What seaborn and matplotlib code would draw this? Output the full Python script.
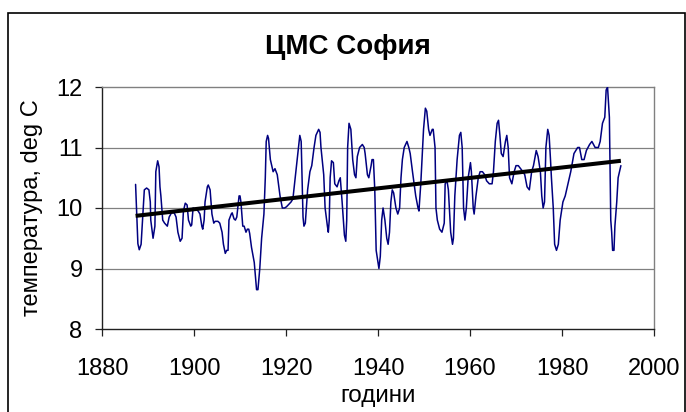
import matplotlib
matplotlib.use("Agg")
import matplotlib.pyplot as plt
import matplotlib.patches as patches
import seaborn as sns
import pandas as pd

years = [1887.3, 1887.8, 1888.1, 1888.5, 1889.2, 1889.7, 1890.2, 1890.5, 1890.6, 1891.1,
         1891.5, 1891.7, 1892.1, 1892.4, 1892.6, 1892.8, 1893.2, 1893.6, 1894.2, 1894.6,
         1895.1, 1895.7, 1896.1, 1896.5, 1897.0, 1897.4, 1897.7, 1898.1, 1898.5, 1898.8,
         1899.3, 1899.5, 1899.8, 1900.4, 1900.9, 1901.3, 1901.7, 1901.9, 1902.2, 1902.4,
         1902.9, 1903.1, 1903.5, 1903.9, 1904.3, 1904.6, 1905.2, 1905.6, 1906.1, 1906.4,
         1906.8, 1907.1, 1907.4, 1907.6, 1908.1, 1908.3, 1908.7, 1909.0, 1909.3, 1909.8,
         1910.0, 1910.2, 1910.6, 1910.9, 1911.3, 1911.6, 1911.9, 1912.1, 1912.5, 1913.1,
         1913.6, 1913.9, 1914.3, 1914.7, 1915.2, 1915.5, 1915.7, 1916.0, 1916.2, 1916.6,
         1916.9, 1917.2, 1917.6, 1918.1, 1918.7, 1919.2, 1919.7, 1920.1, 1921.1, 1921.5,
         1922.0, 1922.5, 1923.0, 1923.3, 1923.5, 1923.7, 1923.9, 1924.2, 1924.7, 1925.2,
         1925.6, 1926.1, 1926.5, 1927.1, 1927.4, 1927.6, 1928.2, 1928.5, 1929.0, 1929.2,
         1929.4, 1929.6, 1929.9, 1930.3, 1930.6, 1931.1, 1931.5, 1931.8, 1932.2, 1932.7,
         1933.0, 1933.2, 1933.4, 1933.7, 1934.1, 1934.5, 1934.9, 1935.2, 1935.5, 1936.0,
         1936.6, 1937.0, 1937.2, 1937.7, 1938.0, 1938.5, 1938.7, 1939.0, 1939.3, 1939.6,
         1940.2, 1940.5, 1940.8, 1941.1, 1941.5, 1941.9, 1942.2, 1942.5, 1942.8, 1943.1,
         1943.4, 1943.9, 1944.3, 1944.7, 1945.0, 1945.3, 1945.7, 1946.3, 1946.7, 1947.0,
         1947.5, 1948.2, 1948.7, 1948.9, 1949.3, 1949.7, 1949.9, 1950.3, 1950.6, 1951.0,
         1951.3, 1951.8, 1952.0, 1952.4, 1952.6, 1952.9, 1953.4, 1953.9, 1954.4, 1954.6,
         1955.0, 1955.3, 1955.8, 1956.2, 1956.4, 1956.7, 1957.2, 1957.7, 1958.0, 1958.3,
         1958.6, 1958.9, 1959.2, 1959.6, 1960.1, 1960.3, 1960.7, 1960.9, 1961.3, 1961.8,
         1962.2, 1962.7, 1963.2, 1963.6, 1964.2, 1964.8, 1965.1, 1965.5, 1965.9, 1966.2,
         1966.5, 1966.8, 1967.2, 1967.7, 1968.0, 1968.3, 1968.6, 1969.1, 1969.6, 1970.0,
         1970.5, 1971.0, 1971.5, 1971.9, 1972.4, 1972.9, 1973.4, 1973.8, 1974.4, 1974.8,
         1975.3, 1975.6, 1975.9, 1976.2, 1976.5, 1976.9, 1977.2, 1977.5, 1977.7, 1978.1,
         1978.4, 1978.8, 1979.2, 1979.6, 1980.2, 1980.7, 1981.3, 1981.9, 1982.6, 1983.4,
         1983.8, 1984.3, 1984.8, 1985.3, 1986.0, 1986.5, 1987.2, 1987.9, 1988.3, 1988.8,
         1989.3, 1989.6, 1989.9, 1990.3, 1990.6, 1990.8, 1991.0, 1991.3, 1991.5, 1991.9,
         1992.2, 1992.8]

temps = [10.39, 9.41, 9.31, 9.40, 10.30, 10.33, 10.30, 10.10, 9.80, 9.50,
         9.70, 10.60, 10.78, 10.68, 10.35, 10.20, 9.80, 9.75, 9.70, 9.85,
         9.92, 9.92, 9.85, 9.60, 9.45, 9.50, 9.95, 10.08, 10.05, 9.80,
         9.70, 9.72, 10.00, 9.98, 9.95, 9.90, 9.70, 9.65, 9.80, 10.10,
         10.35, 10.38, 10.30, 9.90, 9.75, 9.78, 9.78, 9.75, 9.60, 9.40,
         9.25, 9.30, 9.30, 9.80, 9.90, 9.92, 9.82, 9.80, 9.85, 10.20,
         10.20, 10.10, 9.70, 9.70, 9.60, 9.65, 9.65, 9.58, 9.35, 9.10,
         8.65, 8.65, 9.00, 9.50, 9.90, 10.50, 11.10, 11.20, 11.15, 10.80,
         10.70, 10.60, 10.65, 10.55, 10.20, 10.00, 10.00, 10.02, 10.10, 10.15,
         10.50, 10.85, 11.20, 11.10, 10.50, 9.85, 9.70, 9.75, 10.30, 10.60,
         10.70, 11.00, 11.20, 11.30, 11.25, 11.00, 10.55, 10.00, 9.70, 9.60,
         9.80, 10.50, 10.78, 10.75, 10.40, 10.35, 10.45, 10.50, 10.10, 9.55,
         9.45, 9.80, 11.00, 11.40, 11.30, 10.80, 10.55, 10.50, 10.85, 11.00,
         11.05, 11.00, 10.90, 10.55, 10.50, 10.70, 10.80, 10.80, 10.30, 9.30,
         9.00, 9.20, 9.80, 10.00, 9.80, 9.50, 9.40, 9.60, 10.10, 10.30,
         10.25, 10.00, 9.90, 10.00, 10.50, 10.80, 11.00, 11.10, 11.00, 10.90,
         10.60, 10.20, 10.00, 9.95, 10.40, 11.00, 11.30, 11.65, 11.60, 11.30,
         11.20, 11.30, 11.30, 11.00, 10.00, 9.80, 9.65, 9.60, 9.75, 10.40,
         10.45, 10.30, 9.60, 9.40, 9.50, 10.20, 10.80, 11.20, 11.25, 11.00,
         10.00, 9.80, 10.00, 10.50, 10.75, 10.60, 10.00, 9.90, 10.20, 10.50,
         10.60, 10.60, 10.55, 10.45, 10.40, 10.40, 10.60, 11.10, 11.40, 11.45,
         11.20, 10.90, 10.85, 11.10, 11.20, 11.00, 10.50, 10.40, 10.60, 10.70,
         10.70, 10.65, 10.60, 10.55, 10.35, 10.30, 10.60, 10.70, 10.95, 10.85,
         10.60, 10.20, 10.00, 10.10, 11.00, 11.30, 11.20, 10.80, 10.50, 10.00,
         9.40, 9.30, 9.40, 9.80, 10.10, 10.20, 10.40, 10.60, 10.90, 11.00,
         11.00, 10.80, 10.80, 10.95, 11.05, 11.10, 11.00, 11.00, 11.10, 11.40,
         11.50, 11.95, 12.00, 11.50, 9.80, 9.60, 9.30, 9.30, 9.70, 10.10,
         10.50, 10.70]

trend_years = [1887.3, 1992.8]
trend_vals = [9.87, 10.78]

x_ticks = [1880, 1900, 1920, 1940, 1960, 1980, 2000]
y_ticks = [8, 9, 10, 11, 12]

title = "ЦМС София"
x_label = "години"
y_label = "температура, deg C"

sns.set_theme(style="white")
plt.rcParams['font.family'] = ['Liberation Sans', 'DejaVu Sans']

W, H = 686, 412
fig = plt.figure(figsize=(W / 100, H / 100), dpi=100)
fig.patch.set_facecolor("white")
ax = fig.add_axes([102 / W, 1 - 329 / H, (654 - 102) / W, (329 - 87) / H])

df = pd.DataFrame({"year": years, "temp": temps})
tf = pd.DataFrame({"year": trend_years, "temp": trend_vals})

for yv in [9, 10, 11]:
    ax.axhline(yv, color="#808080", lw=0.9, zorder=1)

sns.lineplot(data=df, x="year", y="temp", ax=ax, color="#000080", lw=1.1,
             estimator=None, sort=True, zorder=3)
sns.lineplot(data=tf, x="year", y="temp", ax=ax, color="black", lw=2.9,
             estimator=None, zorder=4, solid_capstyle="butt")

ax.set_xlim(1880, 2000)
ax.set_ylim(8, 12)
ax.set_xticks(x_ticks)
ax.set_yticks(y_ticks)
ax.set_xticklabels([str(v) for v in x_ticks])
ax.set_yticklabels([str(v) for v in y_ticks])

for side in ["top", "right"]:
    ax.spines[side].set_color("#808080")
    ax.spines[side].set_linewidth(1.0)
for side in ["left", "bottom"]:
    ax.spines[side].set_color("#202020")
    ax.spines[side].set_linewidth(1.0)

ax.tick_params(axis="both", which="major", direction="out", length=5, width=0.9,
               color="#202020", labelsize=17, labelcolor="black")
ax.tick_params(axis="x", pad=16, bottom=True)
ax.tick_params(axis="y", pad=9, left=True)

ax.set_xlabel(x_label, fontsize=17.5, color="black")
ax.set_ylabel(y_label, fontsize=17, color="black")
ax.xaxis.set_label_coords(0.5, -0.232)
ax.yaxis.set_label_coords(-0.107, 0.5)

fig.text(347.5 / W, 1 - 47 / H, title, ha="center", va="center",
         fontsize=20, fontweight="bold", color="black")

border = patches.Rectangle((8 / W, -0.1), (684.5 - 8) / W, (1 - 13 / H) + 0.1,
                           transform=fig.transFigure, fill=False,
                           edgecolor="black", lw=1.2, clip_on=False)
fig.patches.append(border)

fig.savefig("out.png", dpi=100, facecolor="white")
